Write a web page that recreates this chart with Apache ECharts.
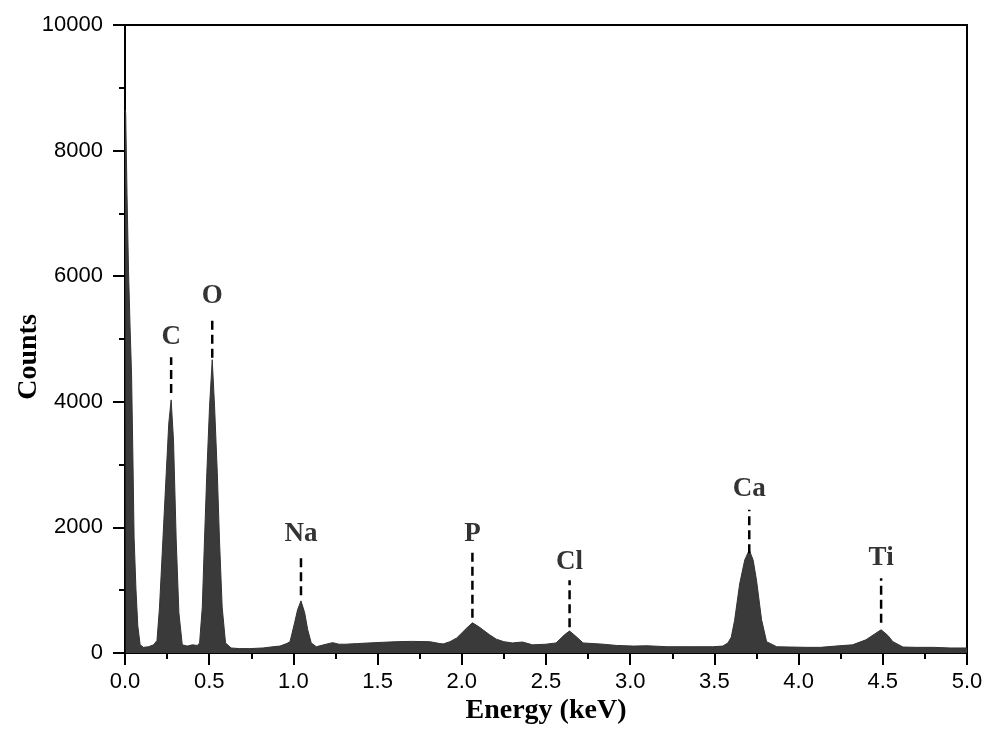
<!DOCTYPE html>
<html>
<head>
<meta charset="utf-8">
<script src="https://cdn.jsdelivr.net/npm/echarts@6/dist/echarts.min.js"></script>
<style>
  html, body { margin: 0; padding: 0; background: #ffffff; }
  #chart { width: 1000px; height: 739px; }
</style>
</head>
<body>
<div id="chart"></div>
<script>
// Spectrum (energy in keV, counts)
const energy = [
  0.000, 0.004, 0.012, 0.021, 0.030, 0.039, 0.047, 0.054, 0.065, 0.076, 0.090, 0.110, 0.140, 0.170, 0.190,
  0.205, 0.225, 0.245, 0.260, 0.274, 0.288, 0.304, 0.320, 0.340, 0.370, 0.400, 0.430,
  0.443, 0.459, 0.472, 0.486, 0.502, 0.518, 0.532, 0.548, 0.561, 0.577, 0.597, 0.630, 0.680, 0.740,
  0.820, 0.880, 0.920, 0.960, 0.980, 1.007, 1.025, 1.045, 1.067, 1.085, 1.106, 1.136, 1.180, 1.233,
  1.270, 1.310, 1.380, 1.450, 1.530, 1.610, 1.700, 1.810, 1.870, 1.890, 1.930, 1.970, 2.030, 2.063,
  2.100, 2.125, 2.165, 2.205, 2.250, 2.300, 2.360, 2.420, 2.500, 2.560, 2.610, 2.640, 2.680, 2.720,
  2.780, 2.840, 2.920, 3.020, 3.100, 3.220, 3.350, 3.490, 3.550, 3.580, 3.600, 3.620, 3.650, 3.680,
  3.707, 3.730, 3.750, 3.780, 3.810, 3.870, 3.950, 4.050, 4.130, 4.220, 4.320, 4.400, 4.450, 4.490,
  4.530, 4.560, 4.620, 4.700, 4.800, 4.900, 5.000
];
const counts = [
  8650, 8600, 7300, 6070, 5200, 4430, 3100, 1840, 1020, 430, 130, 90, 100, 130, 200,
  730, 1800, 2870, 3660, 4030, 3390, 1800, 640, 130, 110, 130, 120,
  160, 730, 1800, 2870, 3920, 4670, 3920, 2870, 1800, 730, 160, 80, 70, 70,
  80, 100, 110, 150, 180, 480, 690, 830, 640, 370, 160, 100, 130, 165,
  140, 140, 150, 160, 170, 180, 185, 180, 150, 145, 180, 240, 400, 480,
  420, 370, 290, 220, 180, 160, 175, 130, 140, 160, 290, 350, 260, 160,
  150, 140, 120, 110, 115, 100, 100, 100, 110, 160, 250, 520, 1100, 1480,
  1640, 1480, 1160, 530, 180, 100, 95, 90, 90, 110, 130, 210, 300, 370,
  280, 180, 95, 90, 90, 80, 80
];

// Peak annotations
const peakNames  = ['C', 'O', 'Na', 'P', 'Cl', 'Ca', 'Ti'];
const peakEnergy = [0.274, 0.518, 1.045, 2.063, 2.640, 3.707, 4.490];
const dashLow    = [4140, 4700, 920, 560, 410, 1590, 480];
const dashHigh   = [4710, 5350, 1590, 1610, 1160, 2280, 1190];
const labelY     = [5030, 5680, 1900, 1900, 1450, 2610, 1510];

// Axis ticks
const xTicks = { min: 0, max: 5, interval: 0.5 };
const yTicks = { min: 0, max: 10000, interval: 2000 };

const spectrum = energy.map((e, i) => [e, counts[i]]);

const dashSeries = peakNames.map((n, i) => ({
  type: 'line',
  data: [[peakEnergy[i], dashLow[i]], [peakEnergy[i], dashHigh[i]]],
  showSymbol: false,
  symbol: 'none',
  silent: true,
  z: 4,
  lineStyle: { color: '#000', width: 2.5, type: [9, 5] }
}));

const labelSeries = {
  type: 'scatter',
  data: peakNames.map((n, i) => [peakEnergy[i], labelY[i], n]),
  symbolSize: 0.1,
  itemStyle: { color: '#000' },
  silent: true,
  z: 5,
  label: {
    show: true,
    position: 'inside',
    formatter: p => p.data[2],
    fontFamily: 'Liberation Serif',
    fontWeight: 'bold',
    fontSize: 27,
    color: '#000',
    textBorderWidth: 0
  }
};

const chart = echarts.init(document.getElementById('chart'), null, { renderer: 'canvas' });
chart.setOption({
  animation: false,
  backgroundColor: '#ffffff',
  grid: {
    left: 125, right: 33, top: 25, bottom: 86,
    outerBoundsMode: 'none',
    containLabel: false,
    show: true, borderColor: '#000', borderWidth: 2, backgroundColor: 'transparent'
  },
  xAxis: {
    type: 'value',
    min: xTicks.min, max: xTicks.max, interval: xTicks.interval,
    name: 'Energy (keV)',
    nameLocation: 'middle',
    nameGap: 44,
    nameMoveOverlap: false,
    nameTextStyle: { fontFamily: 'Liberation Serif', fontWeight: 'bold', fontSize: 28, color: '#000' },
    axisLine: { lineStyle: { color: '#000', width: 2 } },
    axisTick: { show: true, length: 12, lineStyle: { color: '#000', width: 2 } },
    minorTick: { show: true, splitNumber: 2, length: 6, lineStyle: { color: '#000', width: 2 } },
    axisLabel: {
      formatter: v => v.toFixed(1),
      fontFamily: 'Liberation Sans', fontSize: 22, color: '#000', margin: 18
    },
    splitLine: { show: false }
  },
  yAxis: {
    type: 'value',
    min: yTicks.min, max: yTicks.max, interval: yTicks.interval,
    name: 'Counts',
    nameLocation: 'middle',
    nameGap: 82,
    nameMoveOverlap: false,
    nameTextStyle: { fontFamily: 'Liberation Serif', fontWeight: 'bold', fontSize: 28, color: '#000', padding: [0, 36, 0, 0] },
    axisLine: { show: true, lineStyle: { color: '#000', width: 2 } },
    axisTick: { show: true, length: 12, lineStyle: { color: '#000', width: 2 } },
    minorTick: { show: true, splitNumber: 2, length: 6, lineStyle: { color: '#000', width: 2 } },
    axisLabel: { formatter: v => String(v), fontFamily: 'Liberation Sans', fontSize: 22, color: '#000', margin: 22 },
    splitLine: { show: false }
  },
  series: [
    {
      type: 'line',
      data: spectrum,
      showSymbol: false,
      symbol: 'none',
      z: 2,
      lineStyle: { color: '#333333', width: 1 },
      areaStyle: { color: '#3a3a3a', opacity: 1 }
    },
    ...dashSeries,
    labelSeries
  ]
});
</script>
</body>
</html>
